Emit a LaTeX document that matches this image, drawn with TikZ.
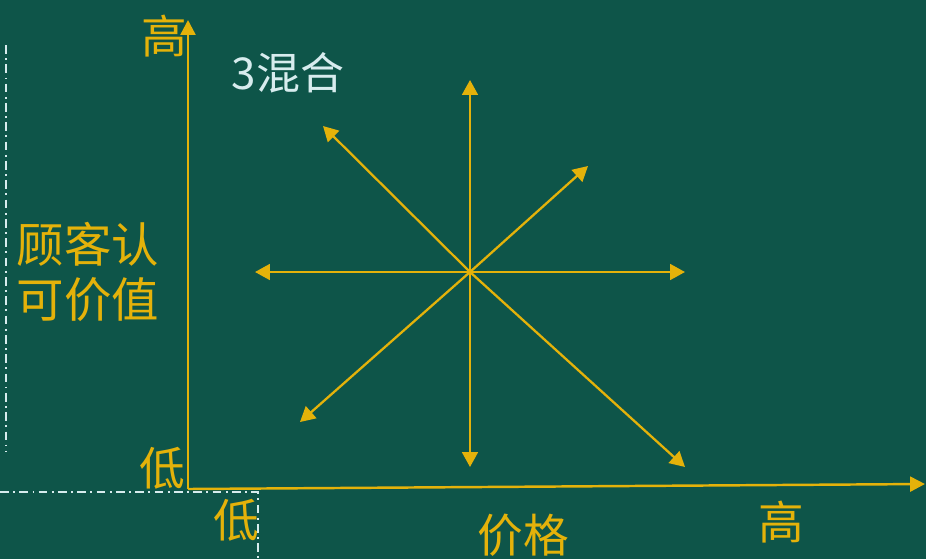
\documentclass[tikz,border=0pt]{standalone}
\usepackage{fontspec}
\setmainfont{Noto Sans CJK SC}
\usetikzlibrary{arrows.meta,positioning}
\definecolor{board}{RGB}{14,85,73}
\definecolor{chalk}{RGB}{228,178,10}
\definecolor{chalkw}{RGB}{215,236,238}

\begin{document}
\begin{tikzpicture}[x=0.02cm, y=-0.02cm,
            word/.style={text=chalk, inner sep=0pt, align=center, font=\fontsize{26}{31}\selectfont},
            axis/.style={->, >={Triangle[length=8.5pt,width=8.5pt]}, chalk, line width=1.4pt},
            to/.style={->, >={Triangle[length=8.5pt,width=9pt]}, chalk, line width=1.3pt},
            guide/.style={chalkw, line width=0.9pt, dash pattern=on 5pt off 2.5pt on 1pt off 2.5pt}
  ]

  \fill[board] (0,0) rectangle (926,559);
  \useasboundingbox (0,0) rectangle (926,559);

  % guide lines
  \draw[guide] (6,45) -- (6,452);
  \draw[guide] (0,492) -- (258,492) -- (258,559);

  % axes
  \coordinate (o) at (188,489);
  \coordinate (ytop) at (188,20);
  \coordinate (xend) at (925,484);
  \draw[axis] (o) -- (ytop);
  \draw[axis] (o) -- (xend);

  \node[word] (yhigh) at (164,36) {高};
  \node[word] (ylow) at (162,468) {低};
  \node[word] (xlow) at (236,520) {低};
  \node[word] (price) at (523,535) {价格};
  \node[word] (xhigh) at (781,522) {高};
  \node[word, font=\fontsize{27}{31}\selectfont] (value) at (88,272) {顾客认\\可价值};
  \node[word, text=chalkw, font=\fontsize{25}{29}\selectfont] (mix) at (288,73) {3混合};

  % star of moves
  \coordinate (c) at (470,272);
  \coordinate (n) at (470,80);
  \coordinate (s) at (470,467);
  \coordinate (w) at (255,272);
  \coordinate (e) at (685,272);
  \coordinate (nw) at (323,126);
  \coordinate (ne) at (588,166);
  \coordinate (sw) at (300,422);
  \coordinate (se) at (685,467);
  \foreach \d in {n,s,w,e,nw,ne,sw,se}
    \draw[to] (c) -- (\d);

\end{tikzpicture}
\end{document}
